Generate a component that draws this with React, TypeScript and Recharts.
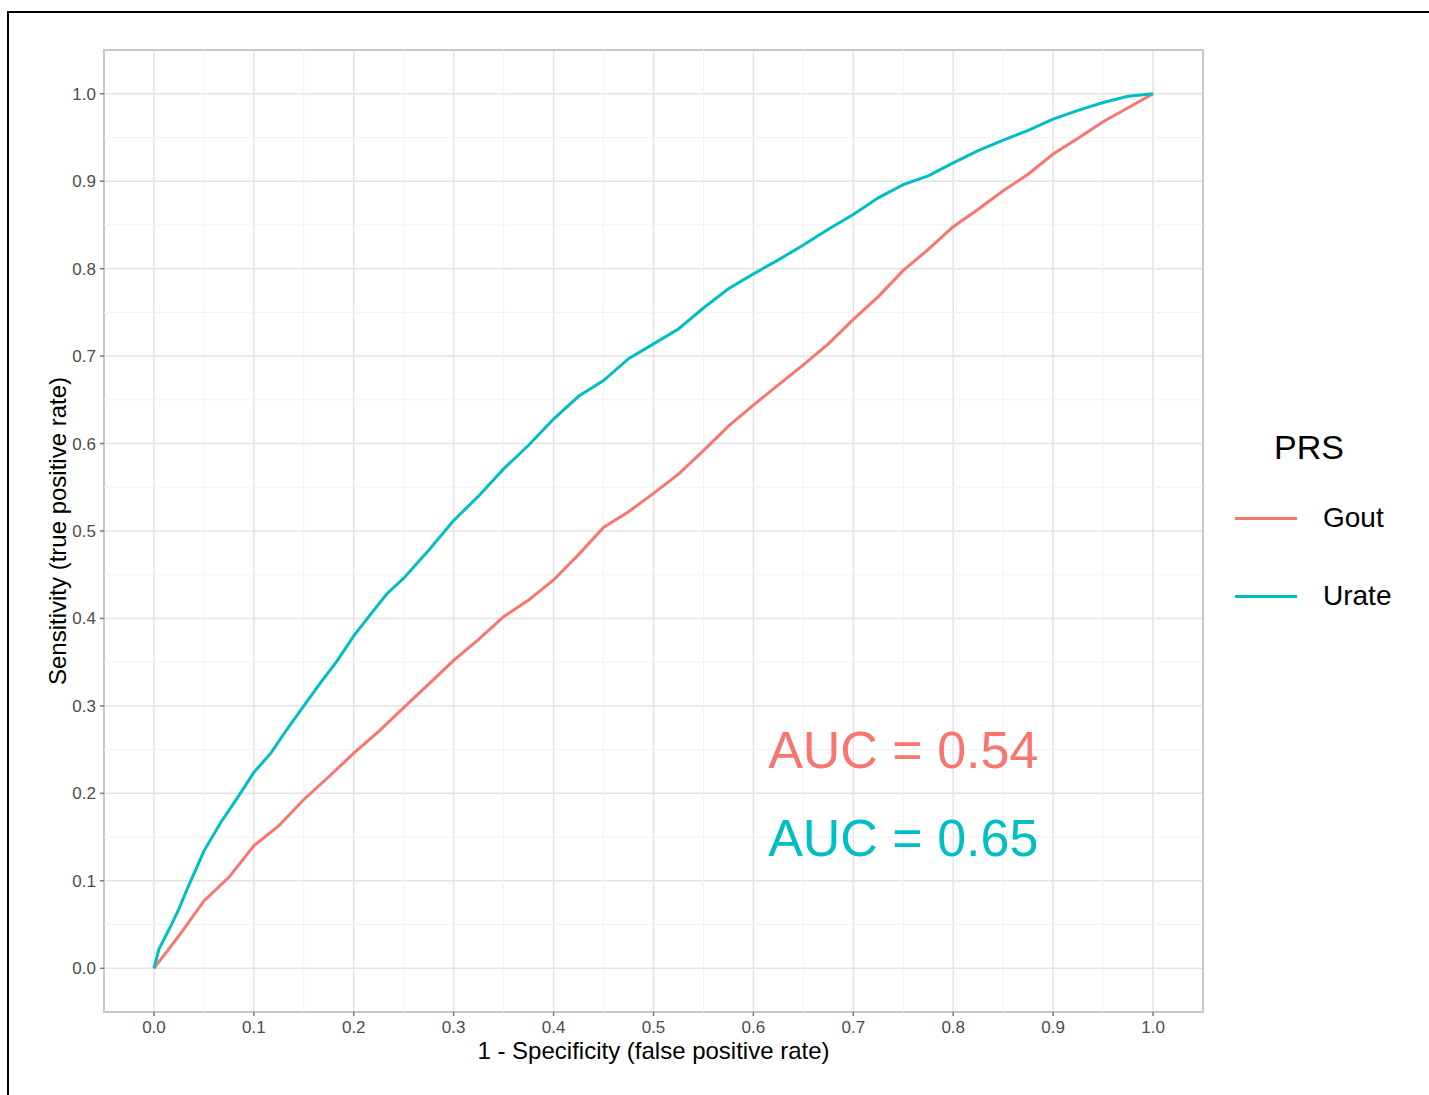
import { LineChart, Line, XAxis, YAxis, CartesianGrid, ReferenceLine, ReferenceArea, ReferenceDot } from 'recharts'

const FONT = '"Liberation Sans", Arial, Helvetica, sans-serif'

// ROC curve points
const goutFpr = [
  0, 0.025, 0.05, 0.075, 0.1, 0.125, 0.15, 0.175, 0.2, 0.225, 0.25, 0.275, 0.3, 0.325, 0.35, 0.375, 0.4,
  0.425, 0.45, 0.475, 0.5, 0.525, 0.55, 0.575, 0.6, 0.625, 0.65, 0.675, 0.7, 0.725, 0.75, 0.775, 0.8,
  0.825, 0.85, 0.875, 0.9, 0.925, 0.95, 0.975, 1,
]
const goutTpr = [
  0, 0.037, 0.077, 0.104, 0.14, 0.163, 0.193, 0.219, 0.246, 0.271, 0.298, 0.325, 0.352, 0.376, 0.402, 0.421, 0.444,
  0.473, 0.504, 0.522, 0.543, 0.565, 0.592, 0.62, 0.644, 0.667, 0.69, 0.714, 0.742, 0.768, 0.798, 0.822, 0.848,
  0.868, 0.889, 0.908, 0.931, 0.949, 0.968, 0.984, 1,
]
const urateFpr = [
  0, 0.005, 0.01, 0.0167, 0.025, 0.033, 0.05, 0.067, 0.083, 0.1, 0.117, 0.133, 0.15, 0.167, 0.183, 0.2, 0.217,
  0.233, 0.25, 0.275, 0.3, 0.325, 0.35, 0.375, 0.4, 0.425, 0.45, 0.475, 0.5, 0.525, 0.55, 0.575, 0.6, 0.625,
  0.65, 0.675, 0.7, 0.725, 0.75, 0.775, 0.8, 0.825, 0.85, 0.875, 0.9, 0.925, 0.95, 0.975, 1,
]
const urateTpr = [
  0, 0.022, 0.033, 0.048, 0.068, 0.09, 0.134, 0.167, 0.194, 0.224, 0.246, 0.273, 0.3, 0.327, 0.351, 0.38, 0.405,
  0.428, 0.446, 0.478, 0.512, 0.54, 0.571, 0.598, 0.628, 0.654, 0.672, 0.697, 0.714, 0.731, 0.755, 0.777, 0.794, 0.81,
  0.827, 0.845, 0.862, 0.881, 0.896, 0.906, 0.921, 0.935, 0.947, 0.958, 0.971, 0.981, 0.99, 0.997, 1,
]

const seriesNames = ['Gout', 'Urate']
const seriesColors = ['#F8766D', '#00BFC4']
const aucValues = ['0.54', '0.65']
const aucY = [0.25, 0.15]

const majorTicks = [0, 0.1, 0.2, 0.3, 0.4, 0.5, 0.6, 0.7, 0.8, 0.9, 1]
const minorTicks = [-0.05, 0.05, 0.15, 0.25, 0.35, 0.45, 0.55, 0.65, 0.75, 0.85, 0.95, 1.05]

const goutData = goutFpr.map((x, i) => ({ x, y: goutTpr[i] }))
const urateData = urateFpr.map((x, i) => ({ x, y: urateTpr[i] }))
const seriesData = [goutData, urateData]

const fmt = (v: number) => v.toFixed(1)

export default function App() {
  return (
    <div style={{ position: 'absolute', left: 0, top: 0, width: 1429, height: 1095, background: '#fff', fontFamily: FONT }}>
      {/* outer frame */}
      <div
        style={{
          position: 'absolute',
          left: 7,
          top: 11,
          width: 1430,
          height: 1090,
          borderTop: '2px solid #000',
          borderLeft: '2px solid #000',
        }}
      />
      <LineChart width={1429} height={1095} margin={{ top: 50, right: 226, bottom: 43, left: 54 }}>
        {minorTicks.map(t => (
          <ReferenceLine key={'vx' + t} x={t} stroke="#f2f2f2" strokeWidth={1} />
        ))}
        {minorTicks.map(t => (
          <ReferenceLine key={'hy' + t} y={t} stroke="#f2f2f2" strokeWidth={1} />
        ))}
        <CartesianGrid stroke="#e4e4e4" strokeWidth={1.5} />
        <XAxis
          type="number"
          dataKey="x"
          domain={[-0.05, 1.05]}
          ticks={majorTicks}
          tickFormatter={fmt}
          allowDataOverflow
          axisLine={false}
          tickSize={4}
          tickMargin={5}
          tickLine={{ stroke: '#7a7a7a', strokeWidth: 1.5 }}
          tick={{ fill: '#4d4d4d', fontSize: 17, fontFamily: FONT }}
          height={40}
          label={{
            content: (props: any) => {
              const vb = props.viewBox
              return (
                <text x={vb.x + vb.width / 2} y={1050} textAnchor="middle" dominantBaseline="central" fontSize={24} fill="#000" fontFamily={FONT}>
                  1 - Specificity (false positive rate)
                </text>
              )
            },
          }}
        />
        <YAxis
          type="number"
          domain={[-0.05, 1.05]}
          ticks={majorTicks}
          tickFormatter={fmt}
          allowDataOverflow
          axisLine={false}
          tickSize={4}
          tickMargin={4}
          tickLine={{ stroke: '#7a7a7a', strokeWidth: 1.5 }}
          tick={{ fill: '#4d4d4d', fontSize: 17, fontFamily: FONT }}
          width={50}
          label={{
            content: (props: any) => {
              const vb = props.viewBox
              const cx = 57
              const cy = vb.y + vb.height / 2
              return (
                <text x={cx} y={cy} transform={`rotate(-90 ${cx} ${cy})`} textAnchor="middle" dominantBaseline="central" fontSize={24} fill="#000" fontFamily={FONT}>
                  Sensitivity (true positive rate)
                </text>
              )
            },
          }}
        />
        {seriesData.map((d, i) => (
          <Line
            key={seriesNames[i]}
            data={d}
            dataKey="y"
            name={seriesNames[i]}
            type="linear"
            stroke={seriesColors[i]}
            strokeWidth={3}
            dot={false}
            isAnimationActive={false}
          />
        ))}
        <ReferenceArea x1={-0.05} x2={1.05} y1={-0.05} y2={1.05} fill="none" fillOpacity={0} stroke="#858585" strokeWidth={1.5} />
        {aucValues.map((v, i) => (
          <ReferenceDot
            key={'auc' + i}
            x={0.75}
            y={aucY[i]}
            r={0}
            fill="none"
            stroke="none"
            label={{ value: `AUC = ${v}`, position: 'center', fill: seriesColors[i], fontSize: 52, fontFamily: FONT }}
          />
        ))}
      </LineChart>
      {/* legend */}
      <div style={{ position: 'absolute', left: 1274, top: 447, transform: 'translateY(-50%)', fontSize: 34, color: '#000', lineHeight: 1 }}>
        PRS
      </div>
      {seriesNames.map((n, i) => (
        <div key={n} style={{ position: 'absolute', left: 1235, top: 518 + i * 78, height: 0 }}>
          <div style={{ position: 'absolute', left: 0, top: -1.5, width: 62, height: 3, background: seriesColors[i] }} />
          <div style={{ position: 'absolute', left: 88, top: 0, transform: 'translateY(-50%)', fontSize: 28, lineHeight: 1, whiteSpace: 'nowrap', color: '#000' }}>
            {n}
          </div>
        </div>
      ))}
    </div>
  )
}
